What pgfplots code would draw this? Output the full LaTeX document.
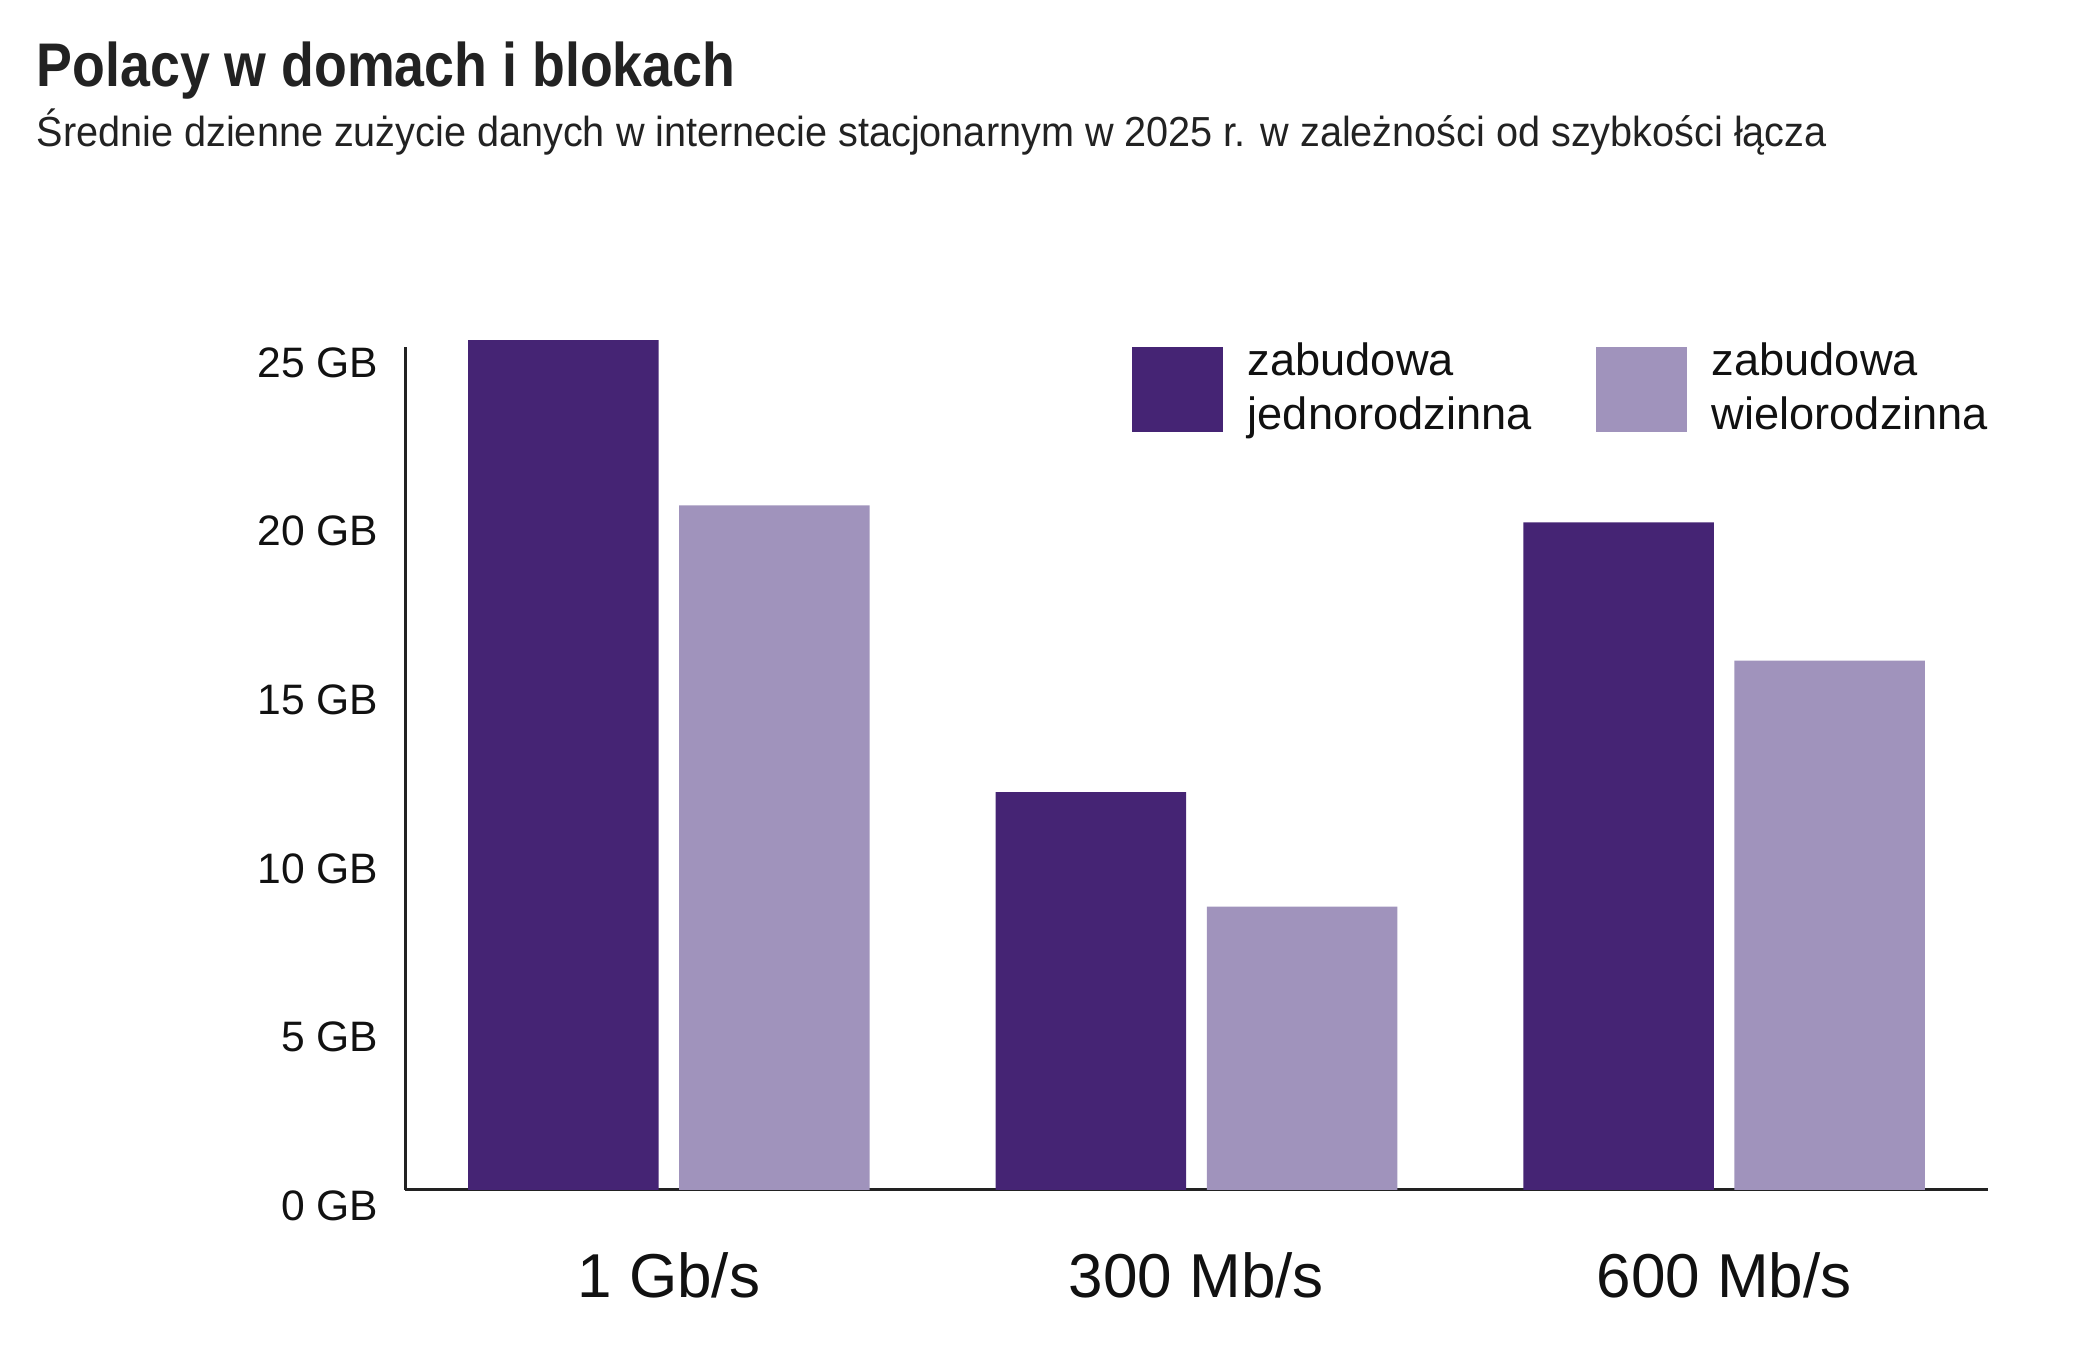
\documentclass[border=0pt]{standalone}
\usepackage{pgfplots}
\pgfplotsset{compat=1.18}
\usepackage{fontspec}
\usepackage{graphicx}
\setmainfont{Liberation Sans}
\definecolor{darkp}{HTML}{452474}
\definecolor{lightp}{HTML}{A093BC}
\definecolor{txt}{HTML}{111111}
\definecolor{ttl}{HTML}{222222}
\begin{document}
\begin{tikzpicture}
\useasboundingbox (0,0) rectangle (519.5pt,339pt);
\node[anchor=base west, inner sep=0, text=ttl] at (9pt,317.25pt)
  {\resizebox{174.6pt}{\height}{\fontsize{15.4}{18}\selectfont\bfseries Polacy w domach i blokach}};
\node[anchor=base west, inner sep=0, text=ttl] at (9pt,302.25pt)
  {\resizebox{447.5pt}{\height}{\fontsize{10.5}{13}\selectfont Średnie dzienne zużycie danych w internecie stacjonarnym w 2025 r. w zależności od szybkości łącza}};
\begin{axis}[
  at={(101.25pt,41.5pt)}, anchor=south west,
  scale only axis, width=395.75pt, height=210.75pt,
  xmin=-0.5, xmax=2.5, ymin=0, ymax=25,
  clip=false,
  axis x line=bottom, axis y line=left,
  axis line style={-, draw=ttl, line width=0.75pt},
  major tick length=0pt,
  xtick={0,1,2},
  xticklabels={1 Gb/s, 300 Mb/s, 600 Mb/s},
  xticklabel style={anchor=base, yshift=-27pt, font=\fontsize{15.5}{18}\selectfont, text=txt},
  ytick={0,5,10,15,20,25},
  yticklabels={0 GB,5 GB,10 GB,15 GB,20 GB,25 GB},
  yticklabel style={anchor=base east, inner sep=0pt, xshift=-6.5pt, yshift=-7.6pt, font=\fontsize{10.65}{13}\selectfont, text=txt},
  legend style={at={(0.4586,1.006)}, anchor=north west, draw=none, fill=none,
    inner sep=0pt, row sep=0pt,
    legend columns=2,
    font=\fontsize{11.3}{13.6}\selectfont, text=txt,
    cells={align=left},
    nodes={inner sep=0pt},
    /tikz/every odd column/.append style={column sep=6.25pt},
    /tikz/every even column/.append style={column sep=16pt}},
  legend cell align=left,
  legend image code/.code={\fill[#1] (0pt,-10.6pt) rectangle (22.75pt,10.6pt);},
]
\addplot[ybar, fill=darkp, draw=none, bar width=0.361, bar shift=-0.2]
  coordinates {(0,25.2) (1,11.8) (2,19.8)};
\addlegendentry{zabudowa\\jednorodzinna}
\addplot[ybar, fill=lightp, draw=none, bar width=0.361, bar shift=0.2]
  coordinates {(0,20.3) (1,8.4) (2,15.7)};
\addlegendentry{zabudowa\\wielorodzinna}
\end{axis}
\end{tikzpicture}
\end{document}
